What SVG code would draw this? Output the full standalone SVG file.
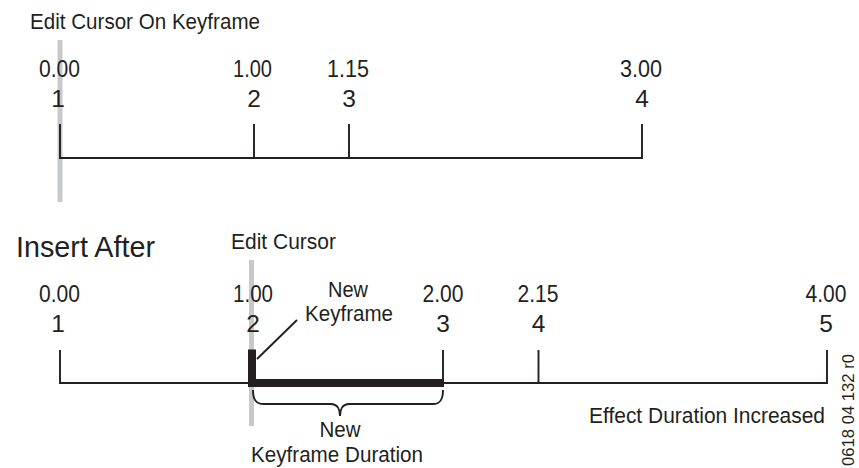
<svg xmlns="http://www.w3.org/2000/svg" width="859" height="468" viewBox="0 0 859 468">
<style>
text{font-family:"Liberation Sans",Arial,sans-serif;fill:#231f20}
.lbl{font-size:22px}
.num{font-size:24.5px;text-anchor:middle}
.ttl{font-size:30px}
.line{stroke:#231f20;stroke-width:1.9;fill:none}
.cursor{fill:#c8c9cb}
.thick{fill:#231f20}
</style>
<rect width="859" height="468" fill="#ffffff"/>

<g id="top-section">
  <text id="title-top" class="lbl" x="30" y="29" textLength="230" lengthAdjust="spacingAndGlyphs">Edit Cursor On Keyframe</text>
  <rect id="cursor-top" class="cursor" x="57.5" y="40" width="5" height="162"/>
  <g id="top-kf1">
    <text class="num" x="59.5" y="77" textLength="41" lengthAdjust="spacingAndGlyphs">0.00</text>
    <text class="num" x="58" y="107">1</text>
  </g>
  <g id="top-kf2">
    <text class="num" x="252.5" y="77" textLength="39" lengthAdjust="spacingAndGlyphs">1.00</text>
    <text class="num" x="254" y="107">2</text>
  </g>
  <g id="top-kf3">
    <text class="num" x="348" y="77" textLength="42" lengthAdjust="spacingAndGlyphs">1.15</text>
    <text class="num" x="349" y="107">3</text>
  </g>
  <g id="top-kf4">
    <text class="num" x="641" y="77" textLength="42" lengthAdjust="spacingAndGlyphs">3.00</text>
    <text class="num" x="642" y="107">4</text>
  </g>
</g>

<g id="bottom-section">
  <text id="title-bottom" class="ttl" x="16" y="257" textLength="139" lengthAdjust="spacingAndGlyphs">Insert After</text>
  <text id="edit-cursor-label" class="lbl" x="231" y="249" textLength="105" lengthAdjust="spacingAndGlyphs">Edit Cursor</text>
  <rect id="cursor-bottom" class="cursor" x="249" y="260" width="5" height="166"/>
  <g id="bot-kf1">
    <text class="num" x="59.5" y="302" textLength="41" lengthAdjust="spacingAndGlyphs">0.00</text>
    <text class="num" x="58" y="332">1</text>
  </g>
  <g id="bot-kf2">
    <text class="num" x="253" y="302" textLength="40" lengthAdjust="spacingAndGlyphs">1.00</text>
    <text class="num" x="253" y="332">2</text>
  </g>
  <g id="new-keyframe-label">
    <text class="lbl" x="348" y="297" text-anchor="middle" textLength="40" lengthAdjust="spacingAndGlyphs">New</text>
    <text class="lbl" x="349" y="321" text-anchor="middle" textLength="88" lengthAdjust="spacingAndGlyphs">Keyframe</text>
  </g>
  <g id="bot-kf3">
    <text class="num" x="443" y="302" textLength="41" lengthAdjust="spacingAndGlyphs">2.00</text>
    <text class="num" x="443" y="332">3</text>
  </g>
  <g id="bot-kf4">
    <text class="num" x="538" y="302" textLength="41" lengthAdjust="spacingAndGlyphs">2.15</text>
    <text class="num" x="538.5" y="332">4</text>
  </g>
  <g id="bot-kf5">
    <text class="num" x="826" y="302" textLength="41" lengthAdjust="spacingAndGlyphs">4.00</text>
    <text class="num" x="826" y="332">5</text>
  </g>
  <text id="effect-label" class="lbl" x="825" y="423" text-anchor="end" textLength="236" lengthAdjust="spacingAndGlyphs">Effect Duration Increased</text>
  <g id="duration-label">
    <text class="lbl" x="340" y="437" text-anchor="middle" textLength="41" lengthAdjust="spacingAndGlyphs">New</text>
    <text class="lbl" x="337" y="462" text-anchor="middle" textLength="172" lengthAdjust="spacingAndGlyphs">Keyframe Duration</text>
  </g>
</g>

<g id="connectors">
  <path class="line" d="M60,124 V158 H642 V124 M254,124 V158 M349,124 V158"/>
  <path class="line" d="M60,350 V383 H827 V350 M443,350 V383 M538.5,350 V383"/>
  <rect class="thick" x="248" y="379" width="196" height="8"/>
  <rect class="thick" x="248" y="349.5" width="8" height="37.5"/>
  <line class="line" x1="257" y1="359" x2="297" y2="320" stroke-width="1.6"/>
  <path class="line" d="M253,390 C253,400 256,404 264,404 L331,404 C337,404 340,409 340,416 C340,409 343,404 349,404 L433,404 C440,404 443,400 443,390"/>
</g>

<text id="figure-id" x="0" y="0" transform="translate(854,466) rotate(-90)" font-size="17" textLength="112" lengthAdjust="spacingAndGlyphs">0618 04 132 r0</text>
</svg>
